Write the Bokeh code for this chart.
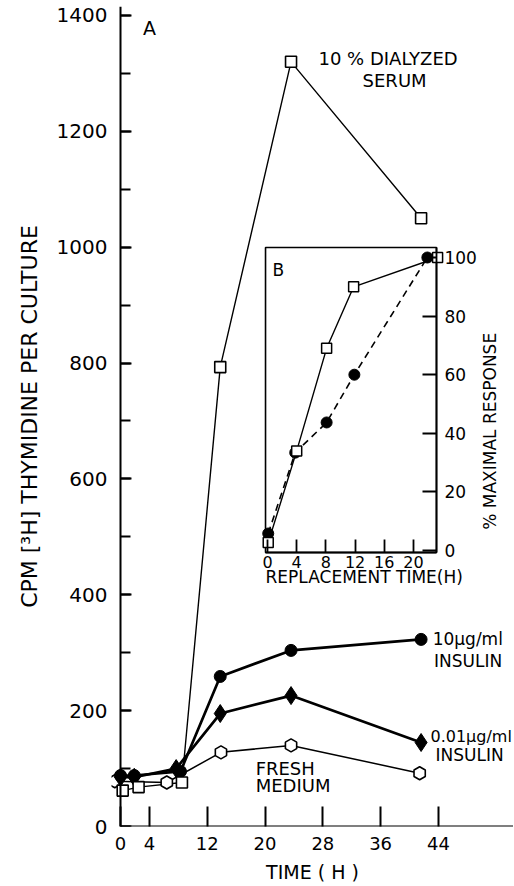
from math import pi
from bokeh.plotting import figure
from bokeh.models import (LinearAxis, Range1d, FixedTicker, SingleIntervalTicker,
                          BoxAnnotation, Label)
from bokeh.embed import file_html
from bokeh.resources import INLINE

# ---------------- Panel A data ----------------
serum_t = [0.3, 2.5, 8.5, 13.8, 23.6, 41.6]
serum_v = [62, 68, 76, 793, 1320, 1050]
ins10_t = [0, 1.9, 8.3, 13.8, 23.6, 41.6]
ins10_v = [88, 88, 95, 259, 304, 323]
ins001_t = [0, 1.9, 7.7, 13.8, 23.6, 41.6]
ins001_v = [85, 85, 100, 195, 226, 145]
fresh_t = [-0.8, 6.4, 13.9, 23.6, 41.4]
fresh_v = [78, 76, 128, 140, 92]
x_ticks_a = [0, 4, 12, 20, 28, 36, 44]

# ---------------- Panel B (inset) data ----------------
b_sq_t = [0.1, 4.0, 8.1, 11.8, 23.3]
b_sq_v = [2.7, 34, 69, 90, 100]
b_ci_t = [0.1, 3.8, 8.1, 11.9, 21.9]
b_ci_v = [5.8, 33.4, 43.7, 60, 100]
x_ticks_b = [0, 4, 8, 12, 16, 20]
y_ticks_b = [0, 20, 40, 60, 80, 100]

FONT = "DejaVu Sans"
BLACK = "black"

p = figure(frame_width=402, frame_height=820,
           x_range=Range1d(-1.25, 54.39), y_range=Range1d(0, 1415.5),
           x_axis_type=None, y_axis_type=None,
           toolbar_location=None, output_backend="svg",
           min_border_left=111, min_border_right=0,
           min_border_top=6, min_border_bottom=0)
p.outline_line_color = None
p.background_fill_color = "white"
p.border_fill_color = "white"
p.extra_x_ranges = {"ix": Range1d(-21.37, 33.70)}
p.extra_y_ranges = {"iy": Range1d(-94.2, 185.67)}


def style_axis(ax, label_size, tick_in, lw=2.0, title_size=None):
    ax.axis_line_color = BLACK
    ax.axis_line_width = lw
    ax.major_tick_line_color = BLACK
    ax.major_tick_line_width = lw
    ax.major_tick_in = tick_in
    ax.major_tick_out = 0
    ax.minor_tick_line_color = BLACK
    ax.minor_tick_line_width = lw
    ax.minor_tick_in = tick_in
    ax.minor_tick_out = 0
    ax.major_label_text_font = FONT
    ax.major_label_text_font_size = label_size
    ax.major_label_text_color = BLACK
    ax.axis_label_text_font = FONT
    ax.axis_label_text_font_style = "normal"
    ax.axis_label_text_color = BLACK
    if title_size:
        ax.axis_label_text_font_size = title_size


y_ticker = SingleIntervalTicker(interval=200, num_minor_ticks=2)

# main y axis: line and ticks at time 0
ya = LinearAxis(fixed_location=0, ticker=y_ticker)
style_axis(ya, "20px", 11)
ya.minor_tick_in = 10
ya.major_label_text_color = None
p.add_layout(ya, "left")

# main y axis: tick labels and title
yl = LinearAxis(ticker=y_ticker, axis_label="CPM [\u00b3H] THYMIDINE PER CULTURE")
style_axis(yl, "20px", 0, title_size="22px")
yl.axis_line_color = None
yl.major_tick_line_color = None
yl.minor_tick_line_color = None
yl.major_label_standoff = 4
yl.axis_label_standoff = 12
p.add_layout(yl, "left")

# main x axis
xa = LinearAxis(ticker=FixedTicker(ticks=x_ticks_a), bounds=(0, 47),
                axis_label="TIME ( H )")
style_axis(xa, "18px", 20, title_size="19px")
xa.axis_line_color = None
xa.minor_tick_line_color = None
xa.major_label_standoff = 10
xa.axis_label_standoff = 8
p.add_layout(xa, "below")

xline = LinearAxis(fixed_location=0, bounds=(0, 60), ticker=FixedTicker(ticks=[]))
style_axis(xline, "1px", 0)
xline.major_label_text_color = None
xline.major_tick_line_color = None
xline.minor_tick_line_color = None
p.add_layout(xline, "below")

# ---------------- Panel A glyphs ----------------
p.line(serum_t, serum_v, line_color=BLACK, line_width=1.4)
p.line(ins10_t, ins10_v, line_color=BLACK, line_width=2.7)
p.line(ins001_t, ins001_v, line_color=BLACK, line_width=2.7)
p.line(fresh_t, fresh_v, line_color=BLACK, line_width=1.5)

p.scatter(fresh_t, fresh_v, marker="hex", size=13, angle=pi / 2,
          fill_color="white", line_color=BLACK, line_width=1.6)
p.scatter(ins001_t, ins001_v, marker="diamond", size=18, fill_color=BLACK,
          line_color=BLACK, line_width=1)
p.scatter(ins10_t, ins10_v, marker="circle", size=12, fill_color=BLACK,
          line_color=BLACK, line_width=1)
p.scatter(serum_t, serum_v, marker="square", size=11, fill_color="white",
          line_color=BLACK, line_width=1.6)

# ---------------- Inset (panel B) ----------------
box = BoxAnnotation(left=-0.27, right=23.15, bottom=-0.68, top=103.4,
                    x_range_name="ix", y_range_name="iy",
                    fill_alpha=0, line_color=BLACK, line_alpha=1.0,
                    line_width=1.6, level="underlay")
p.add_layout(box)

bx = LinearAxis(x_range_name="ix", y_range_name="iy", fixed_location=-0.68,
                bounds=(-0.27, 23.15), ticker=FixedTicker(ticks=x_ticks_b))
style_axis(bx, "16px", 13, lw=1.8)
bx.minor_tick_line_color = None
bx.major_label_standoff = 4
p.add_layout(bx, "below")

by = LinearAxis(x_range_name="ix", y_range_name="iy", fixed_location=23.15,
                bounds=(-0.68, 103.4), ticker=FixedTicker(ticks=y_ticks_b))
style_axis(by, "17px", 14, lw=1.8)
by.minor_tick_line_color = None
by.major_label_standoff = 8
p.add_layout(by, "right")

p.line(b_sq_t, b_sq_v, x_range_name="ix", y_range_name="iy",
       line_color=BLACK, line_width=1.4)
p.line(b_ci_t, b_ci_v, x_range_name="ix", y_range_name="iy",
       line_color=BLACK, line_width=1.6, line_dash="7 5")
p.scatter(b_ci_t, b_ci_v, x_range_name="ix", y_range_name="iy",
          marker="circle", size=11, fill_color=BLACK, line_color=BLACK)
p.scatter(b_sq_t, b_sq_v, x_range_name="ix", y_range_name="iy",
          marker="square", size=10, fill_color="white", line_color=BLACK,
          line_width=1.5)


def lab(x, y, text, size="18px", align="left", rng=None, angle=0):
    kw = {}
    if rng:
        kw = dict(x_range_name="ix", y_range_name="iy")
    p.add_layout(Label(x=x, y=y, text=text, text_font=FONT, text_font_size=size,
                       text_align=align, text_baseline="middle", text_color=BLACK,
                       angle=angle, **kw))


lab(4.0, 1378, "A", size="19px", align="center")
lab(27.4, 1325, "10 %  DIALYZED")
lab(33.5, 1288, "SERUM")
lab(43.2, 323, "10\u03bcg/ml", size="17px")
lab(43.4, 285, "INSULIN", size="17px")
lab(42.9, 155, "0.01\u03bcg/ml", size="16px")
lab(43.6, 123, "INSULIN", size="17px")
lab(18.7, 100, "FRESH")
lab(18.7, 71, "MEDIUM")
lab(1.5, 95.9, "B", size="17px", align="center", rng=True)
lab(30.5, 41.6, "% MAXIMAL  RESPONSE", size="17px", align="center", rng=True,
    angle=pi / 2)
lab(-0.27, -9.2, "REPLACEMENT  TIME(H)", size="17px", align="left", rng=True)

open("out.html", "w").write(file_html(p, INLINE))
